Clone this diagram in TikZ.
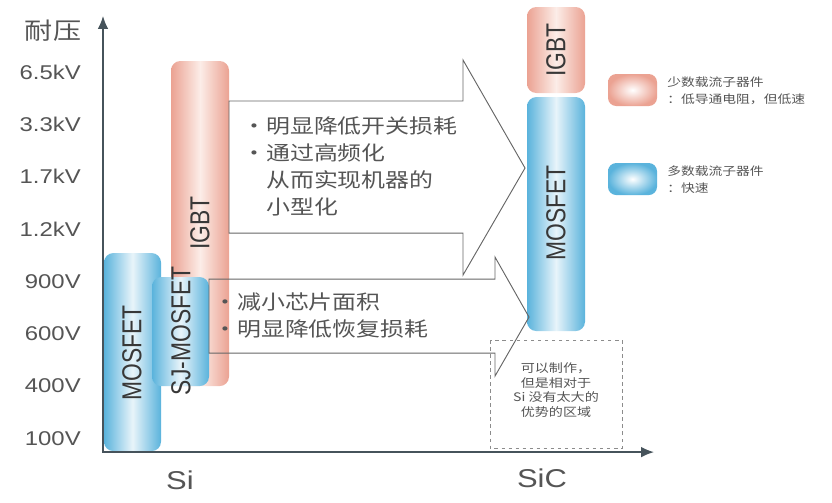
\documentclass[tikz,border=0pt]{standalone}
\usepackage{fontspec}
\setmainfont{Liberation Sans}
\newfontfamily\cjk{Noto Sans CJK SC}
\usetikzlibrary{arrows.meta}
\definecolor{axisgray}{HTML}{46535B}
\definecolor{txtgray}{HTML}{555555}
\definecolor{pinkedge}{HTML}{EBA292}
\definecolor{pinkmid}{HTML}{FCEDE8}
\definecolor{blueedge}{HTML}{5AB3DC}
\definecolor{bluemid}{HTML}{E8F4FA}
\tikzset{
  pinkbar/.style={left color=pinkedge, right color=pinkedge, middle color=pinkmid, rounded corners=8pt},
  bluebar/.style={left color=blueedge, right color=blueedge, middle color=bluemid, rounded corners=8pt},
  pinkkey/.style={inner color=white, outer color=pinkedge, rounded corners=7pt},
  bluekey/.style={inner color=white, outer color=blueedge, rounded corners=7pt},
  barlabel/.style={rotate=90, inner sep=0pt, text=black!78, font=\fontsize{19.5}{20}\selectfont},
  volt/.style={anchor=east, inner sep=0pt, text=txtgray, font=\fontsize{17}{18}\selectfont},
  axislabel/.style={inner sep=0pt, text=txtgray, font=\fontsize{22}{24}\selectfont},
  bigarrow/.style={draw=black!60, line width=0.8pt},
  cn/.style={anchor=north west, align=left, inner sep=0pt, text=txtgray, font=\cjk\fontsize{17}{23}\selectfont},
  keytext/.style={anchor=north west, align=left, inner sep=0pt, text=txtgray, font=\cjk\fontsize{9.8}{14.5}\selectfont},
}
\begin{document}
\begin{tikzpicture}[x=0.025cm, y=-0.03cm, xscale=1.2, transform shape]
  \useasboundingbox (0,0) rectangle (832,502);
  \path[pinkbar] (171,61) rectangle (229,386);
  \path[bluebar] (104,253) rectangle (161,451);
  \path[bluebar] (152,277) rectangle (209,386);
  \path[pinkbar] (527,7) rectangle (585,93);
  \path[bluebar] (527,97) rectangle (585,331);
  \node[barlabel] (igbtsi) at (200,223) {IGBT};
  \node[barlabel] (mossi) at (132,353) {MOSFET};
  \node[barlabel] (sjmos) at (181,331) {SJ-MOSFET};
  \node[barlabel] (igbtsic) at (556,50) {IGBT};
  \node[barlabel] (mossic) at (556,213) {MOSFET};
  \draw[axisgray, line width=1.2pt, {Latex[length=11pt,width=9pt]}-{Latex[length=11pt,width=9pt]}] (103,16) |- (654,452);
  \node[axislabel, font=\cjk\fontsize{20}{22}\selectfont] (naiya) at (53,31) {耐压};
  \foreach \v [count=\i from 0] in {6.5kV,3.3kV,1.7kV,1.2kV,900V,600V,400V,100V}
    \node[volt] (v\i) at (81,72+52.3*\i) {\v};
  \node[axislabel] (si) at (180,480) {Si};
  \node[axislabel] (sic) at (542,478) {SiC};
  \draw[bigarrow] (229,101) -- (463,101) -- (463,60) -- (525,168) -- (463,275) -- (463,233) -- (229,233) -- cycle;
  \draw[bigarrow] (209,279) -- (495,279) -- (495,257) -- (529,317) -- (495,376) -- (495,353) -- (209,353) -- cycle;
  \node[cn] (gainhi) at (242,117) {・明显降低开关损耗\\・通过高频化\\\phantom{・}从而实现机器的\\\phantom{・}小型化};
  \node[cn] (gainlo) at (213,292) {・减小芯片面积\\・明显降低恢复损耗};
  \draw[dashed, black!45, line width=0.6pt] (490,340) rectangle (622,448);
  \node[align=center, inner sep=0pt, text=txtgray, font=\cjk\fontsize{10}{12.75}\selectfont] (note) at (556,390) {可以制作，\\但是相对于\\Si 没有太大的\\优势的区域};
  \path[pinkkey] (608,74) rectangle (657,106);
  \path[bluekey] (608,163) rectangle (657,195);
  \node[keytext] (minor) at (667,77) {少数载流子器件\\：低导通电阻，但低速};
  \node[keytext] (major) at (667,166) {多数载流子器件\\：快速};
\end{tikzpicture}
\end{document}
